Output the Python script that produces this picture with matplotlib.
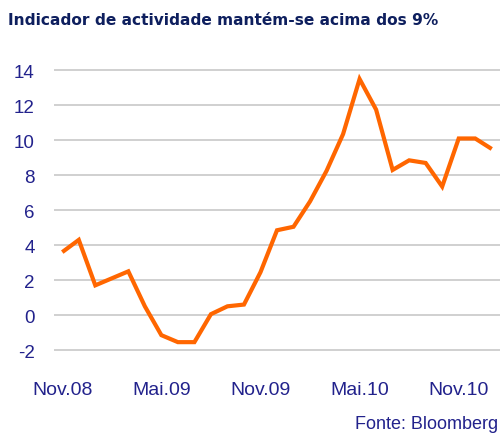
import matplotlib
matplotlib.use("Agg")
import matplotlib.pyplot as plt
from matplotlib import font_manager

names = {f.name for f in font_manager.fontManager.ttflist}
narrow = 'Liberation Sans Narrow' if 'Liberation Sans Narrow' in names else 'Liberation Sans'

values = [3.6, 4.3, 1.7, 2.1, 2.5, 0.5, -1.15, -1.55, -1.55, 0.05, 0.5, 0.6,
          2.45, 4.85, 5.05, 6.5, 8.25, 10.35, 13.5, 11.75, 8.3, 8.85, 8.7,
          7.35, 10.1, 10.1, 9.5]
tick_idx = [0, 6, 12, 18, 24]
tick_labels = ['Nov.08', 'Mai.09', 'Nov.09', 'Mai.10', 'Nov.10']
yticks = [-2, 0, 2, 4, 6, 8, 10, 12, 14]
title = 'Indicador de actividade mantém-se acima dos 9%'
source = 'Fonte: Bloomberg'

label_color = '#22228c'
title_color = '#0e1f5e'

fig = plt.figure(figsize=(5.01, 4.39), dpi=100)
ax = fig.add_axes([54/501, 0.1805, 446/501, 0.677])
ax.plot(range(len(values)), values, color='#ff6600', lw=3.0, solid_joinstyle='miter',
        solid_capstyle='butt', zorder=3)
ax.set_xlim(-0.5, 26.5)
ax.set_ylim(-2.5, 14.5)
ax.set_yticks(yticks)
ax.set_yticklabels([str(v) for v in yticks])
ax.set_xticks(tick_idx)
ax.set_xticklabels(tick_labels)
ax.grid(axis='y', color='#c4c4c4', lw=1.1)
ax.set_axisbelow(True)
for s in ax.spines.values():
    s.set_visible(False)
ax.tick_params(axis='both', length=0, colors=label_color)
ax.tick_params(axis='y', pad=14)
ax.tick_params(axis='x', pad=16)
for lab in ax.get_yticklabels():
    lab.set_fontfamily(narrow)
    lab.set_fontsize(13.5)
for lab in ax.get_xticklabels():
    lab.set_fontfamily(narrow)
    lab.set_fontsize(14)

fig.text(8/501, 1 - 25/439, title, color=title_color, fontsize=11.1,
         fontweight='bold', family='DejaVu Sans', ha='left', va='baseline')
fig.text(498/501, 1 - 429/439, source, color=label_color, fontsize=13,
         family=narrow, ha='right', va='baseline')

fig.savefig('out.png', dpi=100)
